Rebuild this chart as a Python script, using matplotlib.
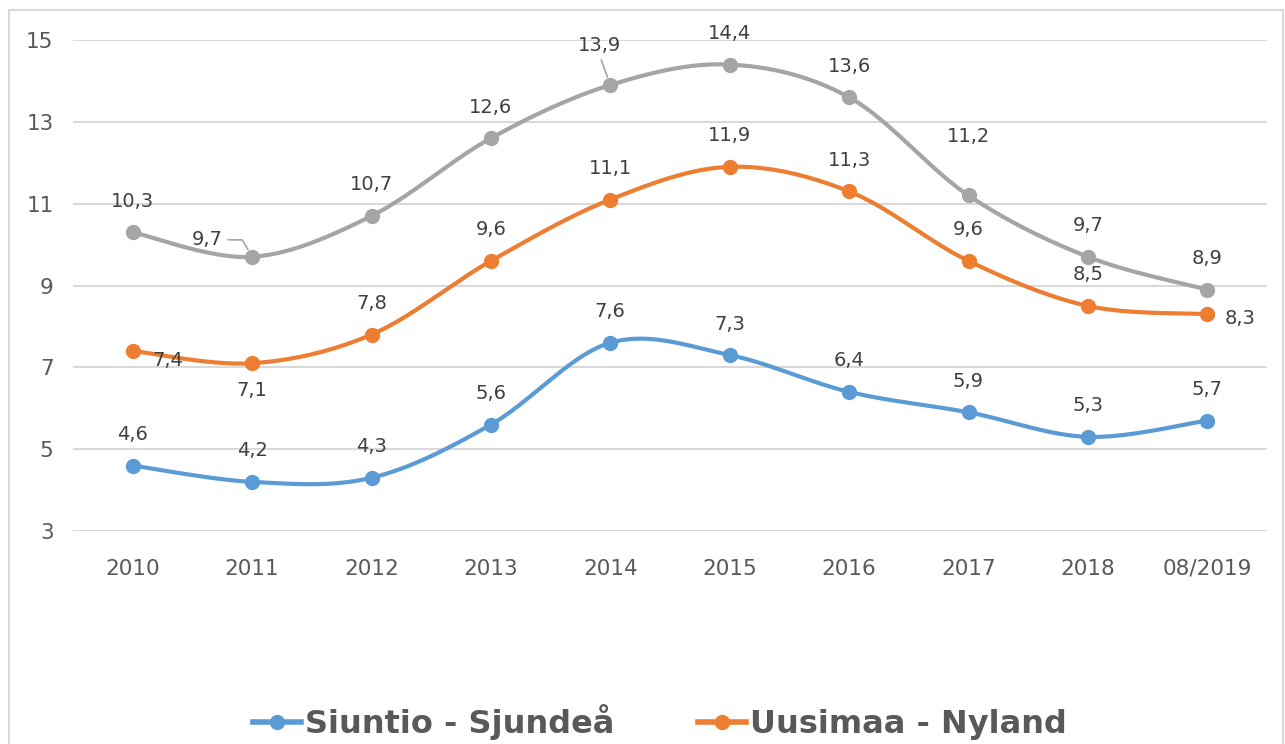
import numpy as np
import matplotlib.pyplot as plt
from matplotlib.lines import Line2D
from matplotlib.patches import Rectangle

# ----- Datos -----
vuodet = ['2010', '2011', '2012', '2013', '2014', '2015', '2016', '2017', '2018', '08/2019']
siuntio = [4.6, 4.2, 4.3, 5.6, 7.6, 7.3, 6.4, 5.9, 5.3, 5.7]
uusimaa = [7.4, 7.1, 7.8, 9.6, 11.1, 11.9, 11.3, 9.6, 8.5, 8.3]
koko_maa = [10.3, 9.7, 10.7, 12.6, 13.9, 14.4, 13.6, 11.2, 9.7, 8.9]
y_ticks = [3, 5, 7, 9, 11, 13, 15]

# ----- Estilo -----
AZUL = '#5b9bd5'
NARANJA = '#ed7d31'
GRIS = '#a5a5a5'
TEXTO = '#595959'
ETIQUETA = '#404040'
REJILLA = '#d9d9d9'

# desplazamientos de las etiquetas (pixeles), por defecto encima del punto
DEFAULT_OFF = (0, 31)
offsets_gris = {1: (-45, 17), 4: (-11, 40), 7: (0, 59)}
offsets_naranja = {0: (35, -10), 1: (0, -27), 9: (33, -4)}
offsets_azul = {}
lideres_gris = {1, 4}


def suavizar(x, y, n=30):
    # curva Bezier tipo Excel (Catmull-Rom), pasa por todos los puntos
    x = np.asarray(x, float)
    y = np.asarray(y, float)
    px = np.concatenate([[x[0]], x, [x[-1]]])
    py = np.concatenate([[y[0]], y, [y[-1]]])
    xs, ys = [], []
    t = np.linspace(0, 1, n)
    for i in range(1, len(px) - 2):
        p0 = np.array([px[i], py[i]])
        p3 = np.array([px[i + 1], py[i + 1]])
        p1 = p0 + (np.array([px[i + 1], py[i + 1]]) - np.array([px[i - 1], py[i - 1]])) / 6
        p2 = p3 - (np.array([px[i + 2], py[i + 2]]) - np.array([px[i], py[i]])) / 6
        b = ((1 - t) ** 3)[:, None] * p0 + (3 * (1 - t) ** 2 * t)[:, None] * p1 \
            + (3 * (1 - t) * t ** 2)[:, None] * p2 + (t ** 3)[:, None] * p3
        xs.extend(b[:, 0])
        ys.extend(b[:, 1])
    return np.array(xs), np.array(ys)


fig = plt.figure(figsize=(12.85, 7.44), dpi=100)
ax = fig.add_axes([73 / 1285, 1 - 531 / 744, (1267 - 73) / 1285, (531 - 40) / 744])

# marco exterior del gráfico
fig.patches.append(Rectangle((9 / 1285, -0.01), (1283 - 9) / 1285, 1 - 10 / 744 + 0.01,
                             transform=fig.transFigure, fill=False,
                             edgecolor=REJILLA, linewidth=1.5))

x = np.arange(len(vuodet))

for serie, color, offs in [(koko_maa, GRIS, offsets_gris),
                           (uusimaa, NARANJA, offsets_naranja),
                           (siuntio, AZUL, offsets_azul)]:
    xs, ys = suavizar(x, serie)
    ax.plot(xs, ys, color=color, linewidth=3, solid_capstyle='round', zorder=3)
    ax.plot(x, serie, 'o', color=color, markersize=10, zorder=4)
    for i, v in enumerate(serie):
        dx, dy = offs.get(i, DEFAULT_OFF)
        texto = f'{v:.1f}'.replace('.', ',')
        props = None
        if color == GRIS and i in lideres_gris:
            props = dict(arrowstyle='-', color=GRIS, linewidth=1.2,
                         shrinkA=2, shrinkB=6, relpos=(1.0, 0.5) if i == 1 else (0.5, 0.0),
                         connectionstyle='angle,angleA=0,angleB=120,rad=0' if i == 1 else 'arc3')
        ax.annotate(texto, (x[i], v), xytext=(dx, dy), textcoords='offset pixels',
                    ha='center', va='center', fontsize=14, color=ETIQUETA,
                    arrowprops=props, zorder=5)

ax.set_xlim(-0.5, len(vuodet) - 0.5)
ax.set_ylim(3, 15)
ax.set_xticks(x)
ax.set_xticklabels(vuodet)
ax.set_yticks(y_ticks)
ax.tick_params(axis='both', length=0, labelsize=15.5, labelcolor=TEXTO)
ax.tick_params(axis='x', pad=20)
ax.tick_params(axis='y', pad=14)
for lado in ax.spines.values():
    lado.set_visible(False)
ax.grid(axis='y', color=REJILLA, linewidth=1.5)
ax.set_axisbelow(True)

# leyenda
manejadores = [Line2D([], [], color=AZUL, marker='o', linewidth=4, markersize=10),
               Line2D([], [], color=NARANJA, marker='o', linewidth=4, markersize=10)]
fig.legend(manejadores, ['Siuntio - Sjundeå', 'Uusimaa - Nyland'], loc='center',
           bbox_to_anchor=(660 / 1285, 1 - 722 / 744), ncol=2, frameon=False,
           handlelength=1.5, handletextpad=0.15, columnspacing=2.6,
           prop={'family': ['DejaVu Sans Condensed', 'DejaVu Sans'], 'weight': 'bold', 'size': 23},
           labelcolor=TEXTO, borderpad=0.1)

plt.savefig('out.png', dpi=100)
